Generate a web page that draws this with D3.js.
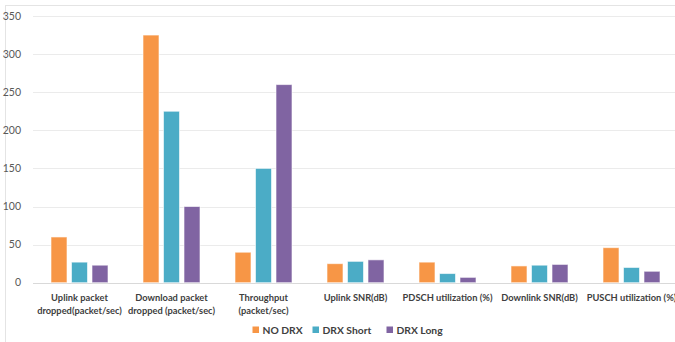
<!DOCTYPE html>
<html><head><meta charset="utf-8">
<script src="https://cdn.jsdelivr.net/npm/d3@7"></script>
<style>html,body{margin:0;padding:0;background:#fff;}svg{display:block;}</style>
</head><body>
<svg id="chart" width="675" height="342"></svg>
<script>
const categories = [
  ["Uplink packet","dropped(packet/sec)"],
  ["Download packet","dropped (packet/sec)"],
  ["Throughput","(packet/sec)"],
  ["Uplink SNR(dB)"],
  ["PDSCH utilization (%)"],
  ["Downlink SNR(dB)"],
  ["PUSCH utilization (%)"]
];
const seriesNames = ["NO DRX","DRX Short","DRX Long"];
const noDrx    = [60, 325, 40, 25, 27, 22, 46];
const drxShort = [27, 225, 150, 28, 12, 23, 20];
const drxLong  = [23, 100, 260, 30, 7, 24, 15];
const yTicks = [0,50,100,150,200,250,300,350];
const colors = ["#F79646","#4BACC6","#8064A2"];

(function(){
const series = [noDrx, drxShort, drxLong];
const svg = d3.select("#chart");
const W = 675, H = 342;
const mLeft = 33.5, mRight = 677.5, mTop = 16, mBottom = 282.7;
const font = "Lato, 'Open Sans', sans-serif";

svg.append("rect").attr("x",5.5).attr("y",5.5).attr("width",W).attr("height",H)
  .attr("fill","none").attr("stroke","#e4e4e4").attr("stroke-width",1);

const x0 = d3.scaleBand().domain(d3.range(categories.length)).range([mLeft,mRight]).paddingInner(0).paddingOuter(0);
const y = d3.scaleLinear().domain([0,350]).range([mBottom, mTop]);

svg.append("g").selectAll("line").data(yTicks).join("line")
  .attr("x1",33).attr("x2",675)
  .attr("y1",d=>Math.round(y(d))+0.5).attr("y2",d=>Math.round(y(d))+0.5)
  .attr("stroke",d=>d===0?"#d9d9d9":"#ebebeb").attr("stroke-width",1);

svg.append("g").selectAll("text").data(yTicks).join("text")
  .attr("x",21).attr("y",d=>y(d)).attr("dy","0.35em")
  .attr("text-anchor","end")
  .attr("font-family",font).attr("font-size","10.5px")
  .attr("fill","#595959").text(d=>d);

const barW = 16, barStep = 20.5;
const g = svg.append("g");
series.forEach((vals,si)=>{
  g.selectAll(null).data(vals).join("rect")
    .attr("x",(d,i)=>x0(i)+x0.bandwidth()/2 + (si-1)*barStep - barW/2)
    .attr("y",d=>y(d))
    .attr("width",barW)
    .attr("height",d=>y(0)-y(d))
    .attr("fill",colors[si])
    .attr("stroke","#ffffff").attr("stroke-opacity",0.6).attr("stroke-width",1);
});

const labG = svg.append("g");
categories.forEach((lines,i)=>{
  const cx = x0(i)+x0.bandwidth()/2;
  const t = labG.append("text")
    .attr("x",cx).attr("y",297.3).attr("dy","0.35em")
    .attr("text-anchor","middle")
    .attr("font-family",font).attr("font-size","9.3px")
    .attr("font-weight","bold").attr("fill","#404040");
  lines.forEach((l,j)=>{
    t.append("tspan").attr("x",cx).attr("dy",j===0?"0.35em":13.4).text(l);
  });
});

const legendX = [252.5, 312.5, 386.5];
const lg = svg.append("g");
seriesNames.forEach((n,i)=>{
  lg.append("rect").attr("x",legendX[i]).attr("y",326.5).attr("width",6.5).attr("height",6.5).attr("fill",colors[i]);
  lg.append("text").attr("x",legendX[i]+10).attr("y",330).attr("dy","0.35em")
    .attr("font-family",font).attr("font-size","10.3px")
    .attr("font-weight","bold").attr("fill","#404040").text(n);
});
})();
</script>
</body></html>
